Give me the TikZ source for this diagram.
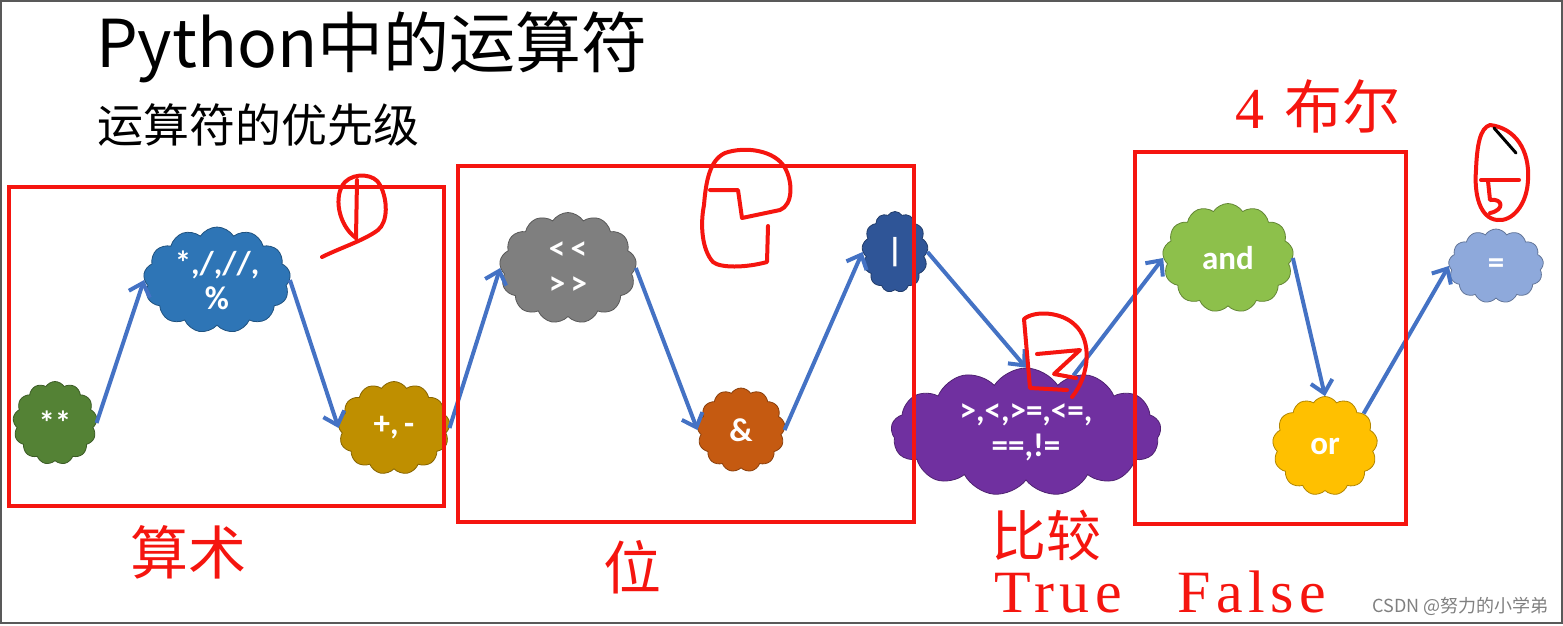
\documentclass[tikz,border=0pt]{standalone}
\usepackage{fontspec}
\setmainfont{Carlito}
\newfontfamily\cjk{Noto Sans CJK SC}
\newfontfamily\wordf{Liberation Serif}[LetterSpace=9]
\usetikzlibrary{shapes.symbols,arrows.meta}

\definecolor{powgreen}{HTML}{548235}
\definecolor{mulblue}{HTML}{2E75B6}
\definecolor{addgold}{HTML}{BF8F00}
\definecolor{shiftgray}{HTML}{7F7F7F}
\definecolor{andorange}{HTML}{C55A11}
\definecolor{ordarkblue}{HTML}{2F5597}
\definecolor{cmppurple}{HTML}{7030A0}
\definecolor{landgreen}{HTML}{8DC04B}
\definecolor{lorgold}{HTML}{FFC000}
\definecolor{assignblue}{HTML}{8EA9DB}
\definecolor{flowblue}{HTML}{4472C4}
\definecolor{penred}{HTML}{F5150F}

\tikzset{
  op/.style={cloud, cloud puffs=13, cloud puff arc=115, cloud ignores aspect,
    fill=#1, draw=#1!70!black, line width=0.8pt, text=white,
    font=\bfseries\fontsize{33}{35}\selectfont, align=center, inner sep=0pt},
  flow/.style={draw=flowblue, line width=4pt, -{Straight Barb[length=12pt,width=22pt]}},
  group/.style={draw=penred, line width=4pt},
  tag/.style={text=penred, font=\cjk\fontsize{58}{60}\selectfont, inner sep=0pt},
  scrawl/.style={draw=penred, line width=4pt, line cap=round, line join=round},
}

\begin{document}
\begin{tikzpicture}[x=1pt,y=-1pt]
  \useasboundingbox (0,0) rectangle (1563,625);
  \draw[gray!70!black, line width=2pt] (1,1) rectangle (1562,623);

  % titles
  \node[anchor=base west, inner sep=0pt, font=\cjk\fontsize{66}{72}\selectfont] (title) at (96,67) {Python中的运算符};
  \node[anchor=base west, inner sep=0pt, font=\cjk\fontsize{46}{54}\selectfont] (subtitle) at (97,142) {运算符的优先级};

  % operator clouds
  \node[op=powgreen, minimum width=84pt, minimum height=83pt] (pow) at (55,423) {**};
  \node[op=mulblue, minimum width=147pt, minimum height=106pt] (mul) at (217,280) {*,/,//,\\\%};
  \node[op=addgold, minimum width=112pt, minimum height=93pt] (add) at (394,428) {+,\,-};
  \node[op=shiftgray, minimum width=137pt, minimum height=111pt] (shift) at (568,268) {<\,<\\>\,>};
  \node[op=andorange, minimum width=88pt, minimum height=84pt] (band) at (741,430) {\&};
  \node[op=ordarkblue, minimum width=66pt, minimum height=81pt] (bor) at (895,252) {|};
  \node[op=cmppurple, minimum width=270pt, minimum height=128pt] (cmp) at (1026,432) {>,<,>=,<=,\\==,!=};
  \node[op=landgreen, minimum width=131pt, minimum height=109pt] (land) at (1228,258) {and};
  \node[op=lorgold, minimum width=105pt, minimum height=99pt] (lor) at (1325,446) {or};
  \node[op=assignblue, minimum width=95pt, minimum height=74pt] (assign) at (1496,266) {=};

  % precedence chain
  \draw[flow] (pow.east) -- (mul.west);
  \draw[flow] (mul.east) -- (add.west);
  \draw[flow] (add.east) -- (shift.west);
  \draw[flow] (shift.east) -- (band.west);
  \draw[flow] (band.east) -- (bor.west);
  \draw[flow] (bor.east) -- (cmp.north);
  \draw[flow] (cmp.50) -- (land.west);
  \draw[flow] (land.east) -- (lor.north);
  \draw[flow] (lor.40) -- (assign.west);

  % groups
  \draw[group] (9,187) rectangle (444,506);
  \draw[group] (458,166) rectangle (914,522);
  \draw[group] (1135,152) rectangle (1406,524);

  \node[tag] (arith) at (188,552) {算术};
  \node[tag] (bits) at (632,567) {位};
  \node[tag, font=\cjk\fontsize{55}{60}\selectfont] (compare) at (1046,535) {比较};
  \node[tag, anchor=base, font=\wordf\fontsize{60}{62}\selectfont] (true) at (1058,612) {True};
  \node[tag, anchor=base, font=\wordf\fontsize{60}{62}\selectfont] (false) at (1252,612) {False};
  \node[tag, anchor=base] (boolean) at (1318,128) {{\wordf 4 }布尔};

  % hand-drawn numbers
  \draw[scrawl] (357,180) -- (356,238);
  \draw[scrawl] (356,238) .. controls (338,225) and (333,195) .. (345,182)
    .. controls (355,172) and (375,174) .. (380,185)
    .. controls (388,200) and (388,222) .. (378,230)
    .. controls (365,240) and (340,248) .. (322,257);
  \draw[scrawl] (768,226) -- (767,262) .. controls (745,268) and (720,268) .. (713,262)
    .. controls (702,250) and (700,225) .. (704,205)
    .. controls (706,180) and (710,160) .. (725,153)
    .. controls (745,146) and (775,150) .. (785,168)
    .. controls (793,182) and (793,205) .. (780,210)
    -- (742,218) -- (738,190) -- (710,190);
  \draw[scrawl] (1072,397) .. controls (1090,375) and (1092,340) .. (1075,325)
    .. controls (1062,312) and (1035,310) .. (1024,319) -- (1030,388) -- (1067,390);
  \draw[scrawl] (1037,354) -- (1080,350) -- (1054,374) -- (1076,378);
  \draw[scrawl] (1490,125) .. controls (1515,128) and (1530,150) .. (1528,180)
    .. controls (1527,205) and (1512,222) .. (1497,220)
    .. controls (1480,218) and (1474,195) .. (1476,170)
    .. controls (1477,145) and (1480,128) .. (1490,125);
  \draw[scrawl] (1481,180) -- (1519,180);
  \draw[scrawl] (1488,181) -- (1490,200) .. controls (1503,198) and (1505,210) .. (1490,213);
  \draw[black, line width=3pt, line cap=round] (1494,128) -- (1516,153);

  \node[text=gray, font=\cjk\fontsize{18}{20}\selectfont, anchor=base east, inner sep=0pt] (mark) at (1549,612) {CSDN @努力的小学弟};
\end{tikzpicture}
\end{document}
